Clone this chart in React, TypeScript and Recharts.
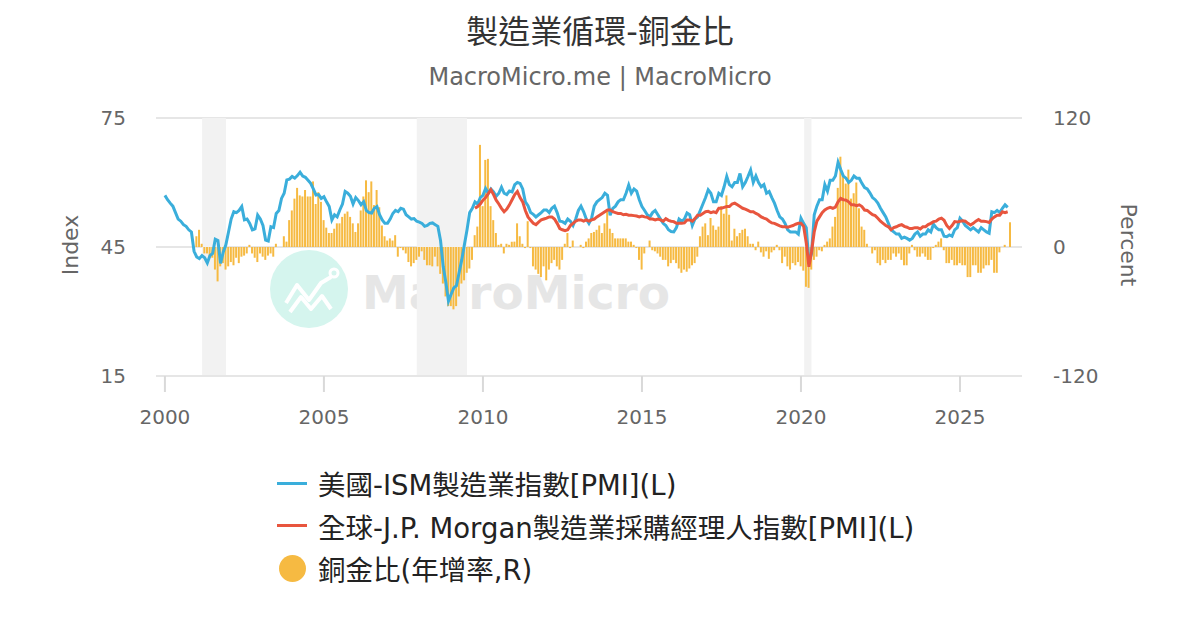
import React from 'react';
import {
  ComposedChart,
  Line,
  Bar,
  XAxis,
  YAxis,
  CartesianGrid,
  ReferenceArea,
} from 'recharts';

// monthly, starting 2000-01
const ismPmi = [
  57.0, 56.0, 55.2, 54.5, 53.0, 51.5, 51.0, 50.2, 49.8, 49.0, 48.5, 44.0, // 2000
  42.7, 42.3, 43.0, 42.5, 41.3, 43.0, 43.5, 46.8, 46.5, 41.2, 43.8, 45.5, // 2001
  48.5, 51.5, 53.2, 53.0, 53.5, 54.4, 51.3, 51.5, 50.5, 49.0, 49.2, 52.4, // 2002
  51.5, 50.0, 46.6, 46.4, 49.7, 49.5, 52.8, 53.5, 56.3, 57.5, 60.6, 60.8, // 2003
  61.4, 61.0, 61.6, 62.4, 61.5, 61.2, 60.5, 59.8, 58.5, 57.1, 57.2, 56.3, // 2004
  56.7, 55.5, 54.4, 51.3, 52.5, 52.0, 53.6, 55.0, 57.9, 57.5, 56.8, 55.0, // 2005
  56.5, 55.8, 54.8, 55.5, 53.5, 53.0, 52.9, 54.0, 54.4, 52.5, 51.3, 50.5, // 2006
  50.5, 51.5, 52.8, 53.5, 53.2, 54.0, 53.8, 52.5, 52.0, 51.5, 51.6, 51.0, // 2007
  50.8, 50.5, 49.8, 50.0, 50.5, 50.6, 50.2, 49.8, 46.5, 40.5, 36.8, 32.4, // 2008
  34.0, 35.5, 36.0, 39.0, 42.0, 45.5, 49.0, 53.0, 54.0, 55.5, 55.0, 56.5, // 2009
  57.0, 58.6, 57.5, 58.5, 57.8, 56.8, 57.5, 58.9, 57.5, 57.2, 58.0, 57.8, // 2010
  59.5, 60.0, 59.8, 58.5, 55.5, 54.6, 53.0, 52.6, 52.0, 52.5, 53.0, 53.6, // 2011
  53.6, 53.0, 54.0, 54.5, 53.0, 51.0, 50.9, 50.5, 51.5, 51.0, 50.0, 51.5, // 2012
  53.5, 54.5, 53.2, 51.5, 50.5, 51.7, 54.5, 55.5, 56.0, 56.5, 57.5, 57.0, // 2013
  52.4, 54.0, 54.5, 55.5, 56.0, 56.0, 57.5, 59.4, 57.5, 58.5, 58.0, 56.0, // 2014
  54.4, 53.5, 52.5, 52.0, 53.0, 53.5, 52.5, 51.5, 50.5, 50.0, 49.0, 48.6, // 2015
  48.5, 49.5, 51.5, 51.0, 51.5, 52.9, 52.5, 50.0, 51.5, 52.0, 53.5, 55.0, // 2016
  56.5, 58.3, 57.5, 55.5, 55.5, 57.5, 57.0, 59.0, 61.4, 59.5, 59.0, 60.0, // 2017
  60.0, 62.1, 59.0, 60.0, 61.4, 62.9, 60.0, 61.5, 60.0, 59.0, 59.5, 57.5, // 2018
  57.9, 56.5, 55.2, 53.5, 52.0, 51.5, 50.5, 49.0, 48.5, 48.5, 48.5, 48.0, // 2019
  51.7, 50.5, 49.5, 41.5, 43.5, 52.5, 54.5, 56.0, 56.0, 59.5, 58.0, 60.5, // 2020
  60.5, 61.5, 64.7, 63.0, 61.5, 61.0, 60.0, 60.5, 61.5, 61.0, 61.0, 59.8, // 2021
  58.8, 58.5, 57.6, 56.5, 56.0, 55.2, 54.0, 53.0, 52.0, 50.5, 49.0, 48.5, // 2022
  48.0, 48.0, 47.0, 47.3, 47.0, 46.6, 47.0, 48.0, 48.5, 47.5, 48.0, 48.0, // 2023
  49.0, 48.5, 50.3, 49.5, 49.0, 49.0, 47.5, 47.4, 47.8, 47.5, 49.0, 49.5, // 2024
  51.7, 51.0, 50.0, 49.5, 49.0, 49.5, 49.0, 48.5, 49.5, 49.0, 48.5, 48.2, // 2025
  53.2, 53.0, 53.5, 53.0, 54.0, 54.8, 54.2, // 2026
];

// monthly, starting 2009-10
const jpmStart = 117;
const jpmPmi = [
  54.0, 54.4, 55.0, // 2009
  55.9, 56.5, 57.4, 58.3, 57.2, 55.9, 55.0, 54.0, 53.2, 53.8, 54.8, 56.0, // 2010
  57.2, 57.9, 56.5, 55.5, 53.5, 52.0, 51.2, 50.5, 50.2, 50.8, 51.3, 51.5, // 2011
  51.7, 52.0, 52.0, 51.5, 50.5, 49.3, 49.0, 48.8, 49.0, 50.0, 50.5, 51.0, // 2012
  51.3, 51.3, 51.0, 51.3, 51.0, 51.3, 51.5, 52.0, 52.4, 52.8, 53.2, 53.6, // 2013
  53.6, 53.2, 53.0, 52.8, 52.8, 52.5, 52.6, 52.4, 52.4, 52.3, 52.2, 52.0, // 2014
  52.2, 52.0, 51.9, 51.5, 51.5, 51.3, 51.5, 51.3, 51.0, 51.6, 51.2, 51.0, // 2015
  50.9, 50.5, 50.5, 50.5, 50.6, 51.3, 51.3, 51.0, 51.6, 52.4, 52.4, 52.8, // 2016
  53.2, 53.3, 53.0, 53.2, 53.0, 54.0, 54.0, 54.2, 54.4, 54.4, 55.0, 55.2, // 2017
  54.8, 54.4, 54.0, 53.8, 53.5, 53.2, 53.2, 52.8, 52.5, 52.0, 51.7, 51.5, // 2018
  51.0, 50.6, 50.5, 50.2, 49.9, 49.7, 49.7, 49.6, 49.8, 50.0, 50.3, 50.5, // 2019
  50.5, 49.8, 46.0, 40.4, 44.0, 48.5, 51.0, 52.0, 53.0, 53.6, 54.0, 54.2, // 2020
  54.0, 54.3, 55.5, 56.3, 56.0, 55.9, 55.5, 54.8, 54.8, 54.6, 54.8, 54.4, // 2021
  53.6, 53.5, 53.0, 52.5, 52.3, 51.7, 51.0, 50.5, 50.0, 49.7, 49.0, 49.5, // 2022
  49.7, 50.0, 50.2, 49.8, 49.6, 49.3, 49.3, 49.5, 49.5, 49.2, 49.7, 49.7, // 2023
  50.2, 50.5, 50.9, 51.0, 51.5, 51.7, 51.2, 50.0, 49.3, 50.0, 50.9, 50.8, // 2024
  51.0, 51.1, 51.0, 50.5, 50.1, 50.5, 51.0, 51.4, 51.0, 51.0, 50.9, 50.7, // 2025
  51.5, 52.0, 52.4, 52.4, 53.2, 53.0, 53.2, // 2026
];

// copper/gold ratio YoY %, monthly, starting 2001-01
const cgStart = 12;
const copperGold = [
  10, 16, 3, -6, -6, -10, -10, -21, -32, -18, -15, -21, // 2001
  -18, -14, -17, -10, -15, -9, -8, -6, 2, -6, -10, -14, // 2002
  -6, -9, -12, -8, -6, -9, 3, 0, 0, 10, 5, 25, // 2003
  34, 45, 55, 48, 47, 53, 47, 47, 61, 40, 51, 42, // 2004
  25, 18, 13, 13, 17, 22, 22, 28, 31, 33, 28, 22, // 2005
  14, 22, 34, 47, 62, 51, 61, 39, 53, 37, 20, 10, // 2006
  6, 8, 6, 11, -9, -1, -3, -6, -14, -18, -15, -12, // 2007
  -9, -4, -12, -17, -17, -18, -9, -18, -25, -34, -46, -55, // 2008
  -55, -58, -55, -46, -34, -31, -24, -20, -12, 11, 19, 95, // 2009
  38, 81, 82, 38, 25, 13, 2, 3, -6, 3, 2, 5, // 2010
  5, 22, 10, 3, -1, 24, -1, -18, -21, -25, -28, -18, // 2011
  -31, -21, -15, -12, -18, -21, -12, 3, 13, -1, 6, 0, // 2012
  0, 2, -1, 5, 8, 13, 14, 16, 20, 13, 22, 34, // 2013
  17, 13, 8, 8, 8, 8, 8, 5, 5, 2, -1, -12, // 2014
  -21, -6, 0, 6, -3, -4, -6, -9, -12, -12, -18, -15, // 2015
  -12, -15, -20, -24, -21, -23, -20, -17, -15, -9, 10, 19, // 2016
  22, 11, 27, 20, 16, 19, 38, 31, 48, 30, 6, 17, // 2017
  10, 13, 16, 17, 10, 3, 3, -3, 5, -5, -9, -4, // 2018
  -11, -5, -3, 2, -3, -15, -9, -18, -21, -15, -17, -14, // 2019
  -18, -22, -37, -38, -21, -12, -9, -3, -4, 2, 5, 8, // 2020
  19, 28, 55, 84, 67, 59, 72, 45, 50, 60, 36, 19, // 2021
  16, 3, 0, -6, -3, -15, -17, -12, -15, -12, -12, -6, // 2022
  -9, -6, -12, -17, -17, -6, 2, -3, -9, -9, -6, -9, // 2023
  -12, -12, -1, 2, 5, 8, -3, -15, -15, -12, -17, -17, // 2024
  -15, -17, -17, -28, -28, -17, -17, -24, -24, -20, -17, -17, // 2025
  -12, -24, -24, -5, 0, 2, null, 23, // 2026
];

const yearTicks = [2000, 2005, 2010, 2015, 2020, 2025];
const recessions = [
  [2001.17, 2001.92],
  [2007.92, 2009.5],
  [2020.1, 2020.33],
];

const monthCount = cgStart + copperGold.length;
const data = Array.from({ length: monthCount }, (_, i) => ({
  t: 2000 + i / 12,
  ism: i < ismPmi.length ? ismPmi[i] : null,
  jpm: i >= jpmStart && i - jpmStart < jpmPmi.length ? jpmPmi[i - jpmStart] : null,
  cg: i >= cgStart ? copperGold[i - cgStart] : null,
}));

const BLUE = '#3aaedb';
const RED = '#e8553e';
const ORANGE = '#f6ba42';
const FONT = "'DejaVu Sans', 'Noto Sans CJK TC', sans-serif";

const legendItems = [
  { label: '美國-ISM製造業指數[PMI](L)', color: BLUE, kind: 'line' },
  { label: '全球-J.P. Morgan製造業採購經理人指數[PMI](L)', color: RED, kind: 'line' },
  { label: '銅金比(年增率,R)', color: ORANGE, kind: 'dot' },
];

const App: React.FC = () => {
  return (
    <div
      style={{
        position: 'absolute',
        left: 0,
        top: 0,
        width: 1200,
        height: 630,
        background: '#fff',
        fontFamily: FONT,
        overflow: 'hidden',
      }}
    >
      <svg width={1200} height={630} style={{ position: 'absolute', left: 0, top: 0 }}>
        <circle cx={309} cy={289} r={39} fill="#d5f5ee" />
        <polyline
          points="286,303 297,285 309,300 321,283 331,277"
          fill="none"
          stroke="#fff"
          strokeWidth={4}
          strokeLinejoin="round"
        />
        <polyline
          points="290,312 301,297 311,309 322,296 331,309"
          fill="none"
          stroke="#fff"
          strokeWidth={4}
          strokeLinejoin="round"
        />
        <circle cx={334} cy={273} r={4} fill="none" stroke="#fff" strokeWidth={3} />
        <text x={362} y={309} fontFamily={FONT} fontWeight="bold" fontSize={47} fill="#e6e6e6">
          MacroMicro
        </text>
        <text
          x={70}
          y={245}
          transform="rotate(-90 70 245)"
          textAnchor="middle"
          dominantBaseline="central"
          fontFamily={FONT}
          fontSize={22}
          fill="#666"
        >
          Index
        </text>
        <text
          x={1128}
          y={245}
          transform="rotate(90 1128 245)"
          textAnchor="middle"
          dominantBaseline="central"
          fontFamily={FONT}
          fontSize={22}
          fill="#666"
        >
          Percent
        </text>
      </svg>

      <div
        style={{
          position: 'absolute',
          top: 12,
          width: 1200,
          textAlign: 'center',
          fontSize: 32,
          lineHeight: '40px',
          color: '#333',
        }}
      >
        製造業循環-銅金比
      </div>
      <div
        style={{
          position: 'absolute',
          top: 62,
          width: 1200,
          textAlign: 'center',
          fontSize: 24,
          lineHeight: '30px',
          color: '#666',
        }}
      >
        MacroMicro.me | MacroMicro
      </div>

      <div style={{ position: 'absolute', left: 0, top: 0 }}>
        <ComposedChart
          width={1200}
          height={450}
          data={data}
          margin={{ top: 118, right: 78, bottom: 14, left: 0 }}
        >
          <CartesianGrid yAxisId="left" vertical={false} stroke="#e6e6e6" strokeWidth={2} />
          {recessions.map(([a, b]) => (
            <ReferenceArea
              key={a}
              yAxisId="left"
              x1={a}
              x2={b}
              fill="#f2f2f2"
              fillOpacity={1}
              stroke="none"
            />
          ))}
          <XAxis
            dataKey="t"
            type="number"
            domain={[1999.72, 2026.95]}
            ticks={yearTicks}
            allowDataOverflow
            height={60}
            tickSize={16}
            tickMargin={18}
            tickLine={{ stroke: '#d9d9d9', strokeWidth: 2 }}
            axisLine={{ stroke: '#e6e6e6', strokeWidth: 2 }}
            tick={{ fill: '#666', fontSize: 20, fontFamily: FONT }}
          />
          <YAxis
            yAxisId="left"
            domain={[15, 75]}
            ticks={[15, 45, 75]}
            width={156}
            tickSize={0}
            tickMargin={30}
            axisLine={false}
            tickLine={false}
            tick={{ fill: '#666', fontSize: 20, fontFamily: FONT }}
          />
          <YAxis
            yAxisId="right"
            orientation="right"
            domain={[-120, 120]}
            ticks={[-120, 0, 120]}
            width={100}
            tickSize={0}
            tickMargin={31}
            axisLine={false}
            tickLine={false}
            tick={{ fill: '#666', fontSize: 20, fontFamily: FONT, textAnchor: 'start' }}
          />
          <Bar
            yAxisId="right"
            dataKey="cg"
            fill={ORANGE}
            barSize={2}
            isAnimationActive={false}
          />
          <Line
            yAxisId="left"
            dataKey="ism"
            stroke={BLUE}
            strokeWidth={3}
            dot={false}
            type="linear"
            isAnimationActive={false}
          />
          <Line
            yAxisId="left"
            dataKey="jpm"
            stroke={RED}
            strokeWidth={3}
            dot={false}
            type="linear"
            isAnimationActive={false}
          />
        </ComposedChart>
      </div>

      <div style={{ position: 'absolute', left: 277, top: 462 }}>
        {legendItems.map((item) => (
          <div
            key={item.label}
            style={{ display: 'flex', alignItems: 'center', height: 42.5 }}
          >
            <div style={{ width: 30, display: 'flex', justifyContent: 'center' }}>
              {item.kind === 'line' ? (
                <div style={{ width: 30, height: 3, background: item.color }} />
              ) : (
                <div
                  style={{
                    width: 27,
                    height: 27,
                    borderRadius: '50%',
                    background: item.color,
                  }}
                />
              )}
            </div>
            <span style={{ marginLeft: 11, fontSize: 27.5, color: '#222', whiteSpace: 'nowrap' }}>
              {item.label}
            </span>
          </div>
        ))}
      </div>
    </div>
  );
};

export default App;
